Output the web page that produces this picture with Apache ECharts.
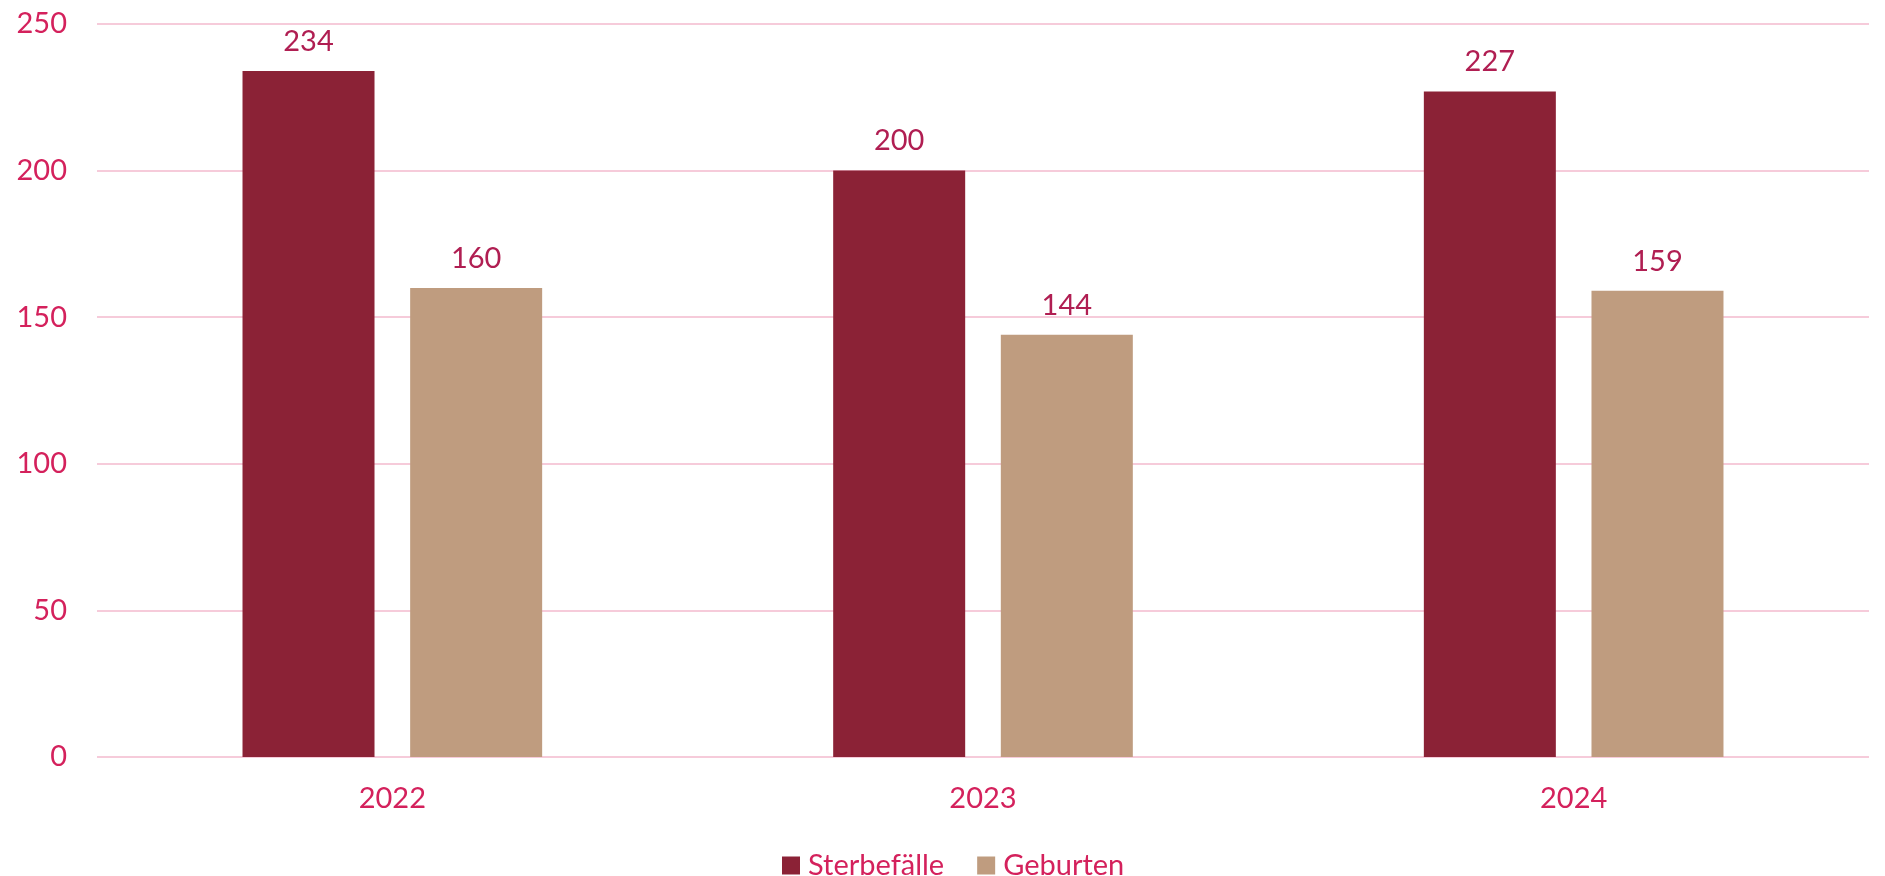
<!DOCTYPE html>
<html>
<head>
<meta charset="utf-8">
<script src="https://cdn.jsdelivr.net/npm/echarts@6/dist/echarts.min.js"></script>
<style>
html,body{margin:0;padding:0;background:#fff;}
#chart{width:1885px;height:876px;}
</style>
</head>
<body>
<div id="chart"></div>
<script>
const categories = ['2022', '2023', '2024'];
const sterbefaelle = [234, 200, 227];
const geburten = [160, 144, 159];
const seriesNames = ['Sterbefälle', 'Geburten'];
const yMin = 0;
const yMax = 250;

const FONT = 'Lato, "Noto Sans", sans-serif';
const GRID_COLOR = '#F6CBDA';
const chart = echarts.init(document.getElementById('chart'));
chart.setOption({
  animation: false,
  backgroundColor: '#ffffff',
  grid: { left: 97, right: 16, top: 24, bottom: 119, containLabel: false },
  legend: {
    data: seriesNames,
    bottom: -4,
    left: 782,
    padding: 0,
    itemWidth: 18,
    itemHeight: 18,
    itemGap: 33,
    icon: 'rect',
    textStyle: { color: '#D4215C', fontSize: 29, fontFamily: FONT, padding: [0, 0, 0, 3] }
  },
  xAxis: {
    type: 'category',
    data: categories,
    axisLine: { show: false },
    axisTick: { show: false },
    axisLabel: { color: '#D4215C', fontSize: 29, fontFamily: FONT, margin: 27 }
  },
  yAxis: {
    type: 'value',
    min: yMin,
    max: yMax,
    interval: 50,
    axisLine: { show: false },
    axisTick: { show: false },
    axisLabel: { color: '#D4215C', fontSize: 29, fontFamily: FONT, margin: 30 },
    splitLine: { showMinLine: false, showMaxLine: false, lineStyle: { color: GRID_COLOR, width: 2 } }
  },
  series: [
    {
      name: seriesNames[0],
      type: 'bar',
      data: sterbefaelle,
      barWidth: 132,
      barGap: '27%',
      z: 3,
      itemStyle: { color: '#8B2236' },
      label: { show: true, position: 'top', distance: 15, color: '#B01E52', fontSize: 29, fontFamily: FONT },
      markLine: {
        silent: true,
        symbol: 'none',
        label: { show: false },
        lineStyle: { color: GRID_COLOR, width: 2, type: 'solid' },
        z: 1,
        data: [{ yAxis: yMin }, { yAxis: yMax }]
      }
    },
    {
      name: seriesNames[1],
      type: 'bar',
      data: geburten,
      barWidth: 132,
      z: 3,
      itemStyle: { color: '#BF9C7F' },
      label: { show: true, position: 'top', distance: 15, color: '#B01E52', fontSize: 29, fontFamily: FONT }
    }
  ]
});
</script>
</body>
</html>
